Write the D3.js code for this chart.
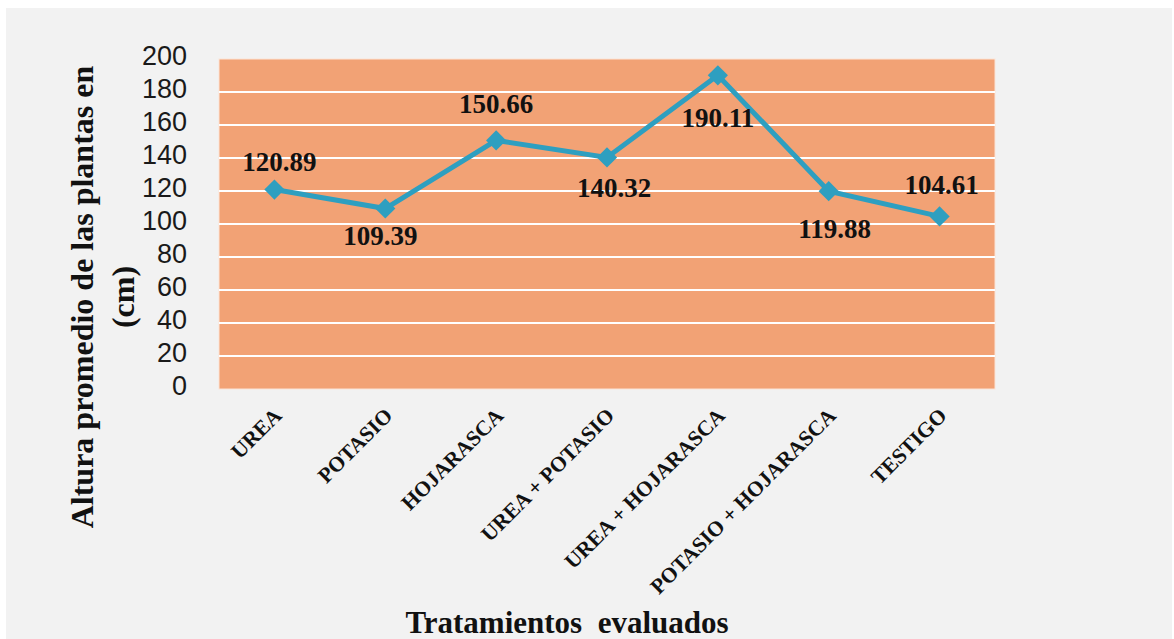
<!DOCTYPE html>
<html>
<head>
<meta charset="utf-8">
<script src="https://d3js.org/d3.v7.min.js"></script>
<style>
    body { margin: 0; background: #ffffff; }
</style>
</head>
<body>
<div id="chart"></div>
<script>
const categories = ["UREA", "POTASIO", "HOJARASCA", "UREA + POTASIO",
    "UREA + HOJARASCA", "POTASIO + HOJARASCA", "TESTIGO"];
const heights = [120.89, 109.39, 150.66, 140.32, 190.11, 119.88, 104.61];
const yTicks = [0, 20, 40, 60, 80, 100, 120, 140, 160, 180, 200];

// value label placement (dx, dy from point to baseline), as in the original
const labelDx = [5, -5, 0, 7, 0, 6, 2];
const labelDy = [-19, 36, -27, 40, 52, 47, -22];

let width  = 1174;
let height = 639;
let margin = {top: 59, right: 179, bottom: 250, left: 219};

let svg = d3.select("#chart")
    .append("svg")
    .attr("width", width)
    .attr("height", height);

svg.append("rect")
    .attr("x", 6)
    .attr("y", 8)
    .attr("width", width - 8)
    .attr("height", height - 8)
    .style("fill", "#f2f2f2");

let g = svg.append("g")
    .attr("transform", "translate(" + margin.left + "," + margin.top + ")");

let w = width - margin.left - margin.right;
let h = height - margin.top - margin.bottom;

///////////
/// Box ///
///////////

g.append("rect")
    .attr("width", w)
    .attr("height", h)
    .style("fill", "#f2a275")
    .style("stroke", "#fbe3d6")
    .style("stroke-width", 1);

let x = d3.scalePoint()
    .domain(categories)
    .range([0, w])
    .padding(0.5);

let y = d3.scaleLinear()
    .domain([0, 200])
    .range([h, 0]);

g.selectAll(".grid")
    .data(yTicks.filter(d => d > 0 && d < 200))
    .enter()
    .append("line")
    .attr("x1", 0)
    .attr("x2", w)
    .attr("y1", d => y(d))
    .attr("y2", d => y(d))
    .style("stroke", "#ffffff")
    .style("stroke-width", 2);

//////////////
/// Axes   ///
//////////////

let yAxis = g.append("g")
    .call(d3.axisLeft(y).tickValues(yTicks).tickSize(0).tickPadding(32));
yAxis.select(".domain").remove();
yAxis.selectAll("text")
    .attr("dy", "0.22em")
    .style("font-family", "'Liberation Sans', sans-serif")
    .style("font-size", "27px")
    .style("fill", "#1a1a1a");

let xAxis = g.append("g")
    .attr("transform", "translate(0," + h + ")")
    .call(d3.axisBottom(x).tickSize(0));
xAxis.select(".domain").remove();
xAxis.selectAll("text")
    .attr("text-anchor", "end")
    .attr("dy", 0)
    .attr("y", 0)
    .attr("transform", "translate(8,28) rotate(-45)")
    .style("font-family", "'Liberation Serif', serif")
    .style("font-weight", "bold")
    .style("font-size", "21.5px")
    .style("fill", "#111");

//////////////
/// Line   ///
//////////////

let line = d3.line()
    .x((d, i) => x(categories[i]))
    .y(d => y(d));

g.append("path")
    .datum(heights)
    .attr("d", line)
    .style("fill", "none")
    .style("stroke", "#2e9fc0")
    .style("stroke-width", 5);

g.selectAll(".marker")
    .data(heights)
    .enter()
    .append("path")
    .attr("d", d3.symbol().type(d3.symbolDiamond2).size(260))
    .attr("transform", (d, i) => "translate(" + x(categories[i]) + "," + y(d) + ")")
    .style("fill", "#2e9fc0");

g.selectAll(".value")
    .data(heights)
    .enter()
    .append("text")
    .attr("text-anchor", "middle")
    .attr("x", (d, i) => x(categories[i]) + labelDx[i])
    .attr("y", (d, i) => y(d) + labelDy[i])
    .style("font-family", "'Liberation Serif', serif")
    .style("font-weight", "bold")
    .style("font-size", "27px")
    .style("fill", "#111")
    .text(d => d.toFixed(2));

//////////////
/// Labels ///
//////////////

let yTitle = svg.append("text")
    .attr("text-anchor", "middle")
    .attr("transform", "translate(93,297) rotate(-90)")
    .style("font-family", "'Liberation Serif', serif")
    .style("font-weight", "bold")
    .style("font-size", "32px")
    .style("fill", "#111");
yTitle.append("tspan")
    .attr("x", 0)
    .attr("y", 0)
    .text("Altura promedio de las plantas en");
yTitle.append("tspan")
    .attr("x", 0)
    .attr("y", 41)
    .text("(cm)");

svg.append("text")
    .attr("text-anchor", "middle")
    .attr("x", 567)
    .attr("y", 633)
    .style("font-family", "'Liberation Serif', serif")
    .style("font-weight", "bold")
    .style("font-size", "31px")
    .style("fill", "#111")
    .style("white-space", "pre")
    .text("Tratamientos  evaluados");
</script>
</body>
</html>
